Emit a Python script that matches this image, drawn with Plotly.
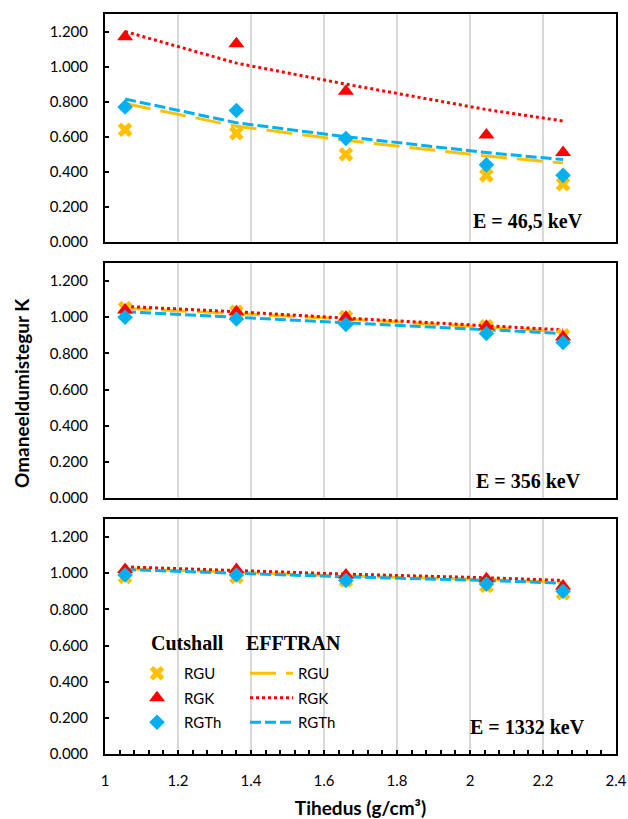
import plotly.graph_objects as go

# ---------------- data ----------------
density = [1.055, 1.36, 1.66, 2.045, 2.255]
series_names = ["RGU", "RGK", "RGTh"]
panel_labels = ["E = 46,5 keV", "E = 356 keV", "E = 1332 keV"]

# Cutshall (markers)
cut_46 = {"RGU": [0.64, 0.62, 0.50, 0.38, 0.33],
          "RGK": [1.17, 1.13, 0.86, 0.61, 0.51],
          "RGTh": [0.77, 0.75, 0.59, 0.44, 0.38]}
cut_356 = {"RGU": [1.05, 1.03, 1.00, 0.95, 0.90],
           "RGK": [1.04, 1.03, 1.00, 0.95, 0.89],
           "RGTh": [1.00, 0.99, 0.96, 0.91, 0.86]}
cut_1332 = {"RGU": [0.98, 0.98, 0.96, 0.93, 0.89],
            "RGK": [1.02, 1.02, 0.99, 0.97, 0.93],
            "RGTh": [0.99, 0.99, 0.96, 0.94, 0.90]}

# EFFTRAN (lines)
eff_46 = {"RGU": [0.79, 0.66, 0.58, 0.49, 0.45],
          "RGK": [1.20, 1.02, 0.90, 0.755, 0.69],
          "RGTh": [0.815, 0.68, 0.60, 0.51, 0.47]}
eff_356 = {"RGU": [1.05, 1.02, 0.99, 0.945, 0.92],
           "RGK": [1.06, 1.03, 0.995, 0.955, 0.93],
           "RGTh": [1.03, 1.00, 0.97, 0.93, 0.91]}
eff_1332 = {"RGU": [1.025, 1.005, 0.985, 0.965, 0.95],
            "RGK": [1.035, 1.015, 0.995, 0.975, 0.96],
            "RGTh": [1.02, 1.00, 0.98, 0.96, 0.945]}

x_ticks = [1, 1.2, 1.4, 1.6, 1.8, 2, 2.2, 2.4]
x_tick_text = ["1", "1.2", "1.4", "1.6", "1.8", "2", "2.2", "2.4"]

# ---------------- styles ----------------
colors = {"RGU": "#FFC000", "RGK": "#FF0000", "RGTh": "#00B0F0"}
symbols = {"RGU": "x", "RGK": "triangle-up", "RGTh": "diamond"}
msizes = {"RGU": 13, "RGK": 14, "RGTh": 12}
dashes = {"RGU": "26px,10px", "RGK": "3px,3px", "RGTh": "11px,4px"}

TICKFONT = dict(family="Lato", size=15, color="black")
SERIF = "Liberation Serif"

fig = go.Figure()

panels = [(cut_46, eff_46), (cut_356, eff_356), (cut_1332, eff_1332)]
for i, (cut, eff) in enumerate(panels):
    ax = "" if i == 0 else str(i + 1)
    last = (i == 2)
    for s in series_names:
        fig.add_trace(go.Scatter(
            x=density, y=eff[s], mode="lines", name=s,
            line=dict(color=colors[s], width=3, dash=dashes[s]),
            xaxis="x" + ax, yaxis="y" + ax,
            showlegend=last, legend="legend2", legendgroup="e" + s))
    for s in series_names:
        fig.add_trace(go.Scatter(
            x=density, y=cut[s], mode="markers", name=s,
            marker=dict(color=colors[s], symbol=symbols[s], size=msizes[s],
                        line=dict(width=0)),
            xaxis="x" + ax, yaxis="y" + ax,
            showlegend=last, legend="legend", legendgroup="c" + s))

# ---------------- axes ----------------
H_TOP, H_BOT = 14, 754          # plot-area top/bottom in page pixels
def py(pix):
    return (H_BOT - pix) / (H_BOT - H_TOP)

domains = [[py(242), 1.0], [py(498), py(263)], [0.0, py(519)]]

layout = dict(
    width=628, height=819,
    margin=dict(l=105, r=12, t=14, b=65, autoexpand=False),
    plot_bgcolor="white", paper_bgcolor="white",
    showlegend=True,
)
for i in range(3):
    ax = "" if i == 0 else str(i + 1)
    last = (i == 2)
    xa = dict(
        domain=[0, 1], range=[1, 2.4], anchor="y" + ax, automargin=False,
        tickvals=x_ticks, ticktext=x_tick_text, ticklabeloverflow="allow",
        showgrid=True, gridcolor="#D9D9D9", gridwidth=2,
        showline=True, linecolor="black", linewidth=2, mirror=True,
        zeroline=False, showticklabels=last, tickfont=TICKFONT,
        ticks="inside" if last else "", ticklen=4, tickcolor="black", tickwidth=1.5,
    )
    if last:
        xa["minor"] = dict(ticks="inside", dtick=0.04, tick0=1, ticklen=4,
                           tickcolor="black", tickwidth=1.5, showgrid=False)
        xa["title"] = dict(text="Tihedus (g/cm³)",
                           font=dict(family="Lato", size=19, color="black", weight="bold"),
                           standoff=23)
        xa["ticklabelstandoff"] = 12
    ya = dict(
        domain=domains[i], range=[0, 1.3], anchor="x" + ax, automargin=False,
        tickvals=[0, 0.2, 0.4, 0.6, 0.8, 1.0, 1.2], tickformat=".3f",
        ticklabeloverflow="allow",
        showgrid=False, zeroline=False,
        showline=True, linecolor="black", linewidth=2, mirror=True,
        ticks="inside", ticklen=4, tickcolor="black", tickwidth=1.5,
        tickfont=TICKFONT, ticklabelstandoff=12,
    )
    layout["xaxis" + ax] = xa
    layout["yaxis" + ax] = ya

layout["legend"] = dict(
    x=(130 - 105) / 511, y=py(657), xanchor="left", yanchor="top",
    bgcolor="rgba(0,0,0,0)", borderwidth=0, font=TICKFONT,
    itemwidth=44, tracegroupgap=2, traceorder="grouped",
)
layout["legend2"] = dict(
    x=(245 - 105) / 511, y=py(657), xanchor="left", yanchor="top",
    bgcolor="rgba(0,0,0,0)", borderwidth=0, font=TICKFONT,
    itemwidth=43, tracegroupgap=2, traceorder="grouped",
)

fig.update_layout(**layout)

# panel energy labels
label_pos = [(0.939, (242 - 221) / 228), (0.935, (498 - 481) / 235), (0.943, (754 - 727) / 235)]
for i, txt in enumerate(panel_labels):
    ax = "" if i == 0 else str(i + 1)
    fig.add_annotation(text=txt, xref="x" + ax + " domain", yref="y" + ax + " domain",
                       x=label_pos[i][0], y=label_pos[i][1], xanchor="right", yanchor="middle",
                       showarrow=False,
                       font=dict(family=SERIF, size=20, color="black", weight="bold"))

# legend headers
fig.add_annotation(text="Cutshall", xref="paper", yref="paper",
                   x=(149 - 105) / 511, y=py(643), xanchor="left", yanchor="middle",
                   showarrow=False, font=dict(family=SERIF, size=20, color="black", weight="bold"))
fig.add_annotation(text="EFFTRAN", xref="paper", yref="paper",
                   x=(244 - 105) / 511, y=py(643), xanchor="left", yanchor="middle",
                   showarrow=False, font=dict(family=SERIF, size=20, color="black", weight="bold"))

# y axis title
fig.add_annotation(text="Omaneeldumistegur K", xref="paper", yref="paper",
                   x=(21 - 105) / 511, y=py(393), xanchor="center", yanchor="middle",
                   textangle=-90, showarrow=False,
                   font=dict(family="Lato", size=19, color="black", weight="bold"))

fig.write_html("out.html", config={"displayModeBar": False},
               post_script="document.body.style.margin='0';document.body.style.overflow='hidden';")
